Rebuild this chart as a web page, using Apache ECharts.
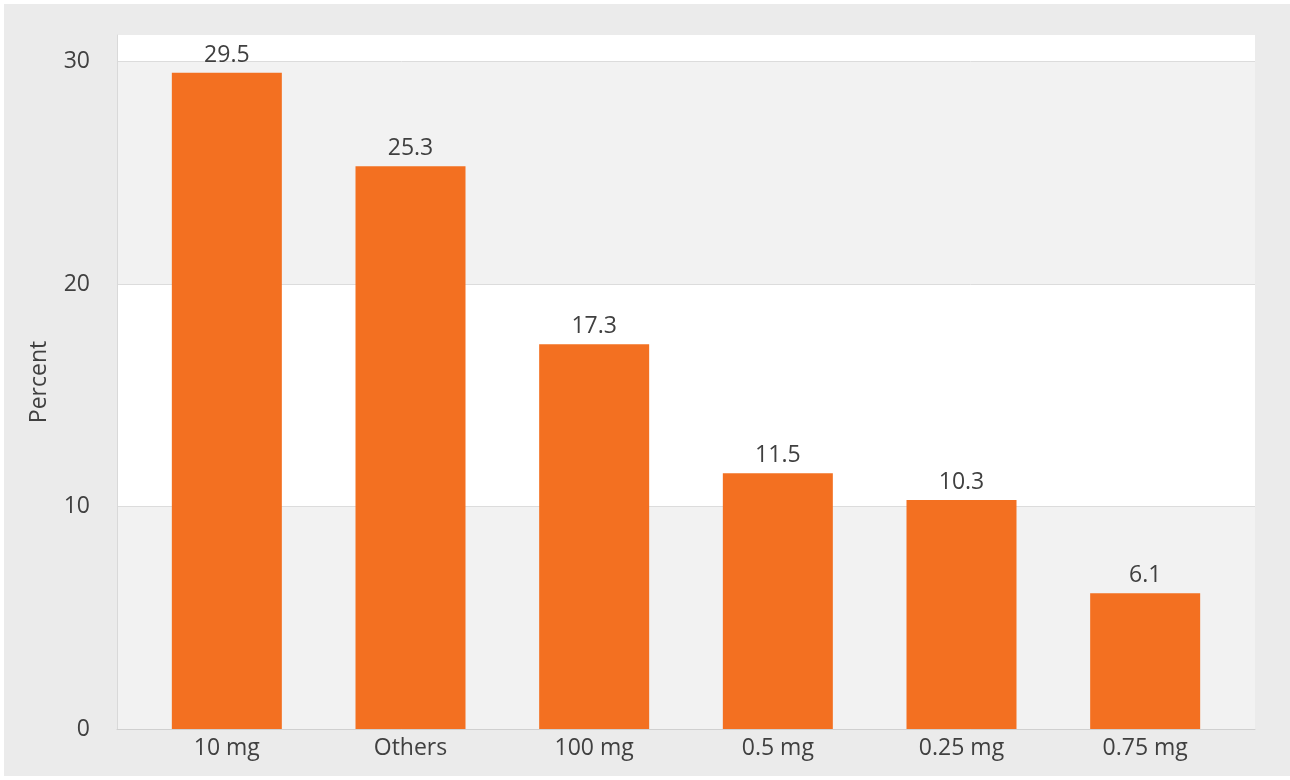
<!DOCTYPE html>
<html>
<head>
<meta charset="utf-8">
<script src="https://cdn.jsdelivr.net/npm/echarts@6/dist/echarts.min.js"></script>
<style>
  html, body { margin: 0; padding: 0; background: #ffffff; }
  #chart { position: absolute; left: 4px; top: 4px; width: 1286px; height: 772px; }
</style>
</head>
<body>
<div id="chart"></div>
<script>
const categories = ['10 mg', 'Others', '100 mg', '0.5 mg', '0.25 mg', '0.75 mg']
const percents = [29.5, 25.3, 17.3, 11.5, 10.3, 6.1]
const yTicks = { min: 0, max: 31.2, interval: 10 }

const textColor = '#404040'
const font = '"Open Sans", "Noto Sans", sans-serif'

const chart = echarts.init(document.getElementById('chart'))

chart.setOption({
  backgroundColor: '#ebebeb',
  animation: false,
  grid: [
    // background bands + y axis
    { left: 113, right: 35, top: 31, bottom: 47 },
    // bars (category axis is a bit narrower than the plot area)
    { left: 131, right: 53, top: 31, bottom: 47 },
  ],
  xAxis: [
    {
      gridIndex: 0,
      type: 'category',
      data: [''],
      axisLine: { show: true, lineStyle: { color: '#d0d0d0', width: 1 } },
      axisTick: { show: false },
      axisLabel: { show: false },
    },
    {
      gridIndex: 1,
      type: 'category',
      data: categories,
      axisLine: { show: false },
      axisTick: { show: false },
      axisLabel: { color: textColor, fontSize: 23, fontFamily: font, margin: 8 },
    },
  ],
  yAxis: [
    {
      gridIndex: 0,
      type: 'value',
      min: yTicks.min,
      max: yTicks.max,
      interval: yTicks.interval,
      name: 'Percent',
      nameLocation: 'middle',
      nameGap: 66,
      nameTextStyle: { color: textColor, fontSize: 23, fontFamily: font },
      axisLine: { show: true, lineStyle: { color: '#d9d9d9' } },
      axisTick: { show: false },
      axisLabel: { color: textColor, fontSize: 23, fontFamily: font, margin: 27, showMaxLabel: false },
      splitLine: { show: true, showMaxLine: false, lineStyle: { color: '#dcdcdc' } },
      splitArea: { show: true, areaStyle: { color: ['#f2f2f2', '#ffffff'] } },
    },
    {
      gridIndex: 1,
      type: 'value',
      min: yTicks.min,
      max: yTicks.max,
      interval: yTicks.interval,
      show: false,
      splitLine: { show: false },
    },
  ],
  series: [
    {
      type: 'bar',
      xAxisIndex: 1,
      yAxisIndex: 1,
      data: percents,
      barWidth: 110,
      itemStyle: { color: '#f37021' },
      label: {
        show: true,
        position: 'top',
        distance: 6,
        color: textColor,
        fontSize: 23,
        fontFamily: font,
        formatter: (p) => p.value.toFixed(1),
      },
    },
  ],
})
</script>
</body>
</html>
